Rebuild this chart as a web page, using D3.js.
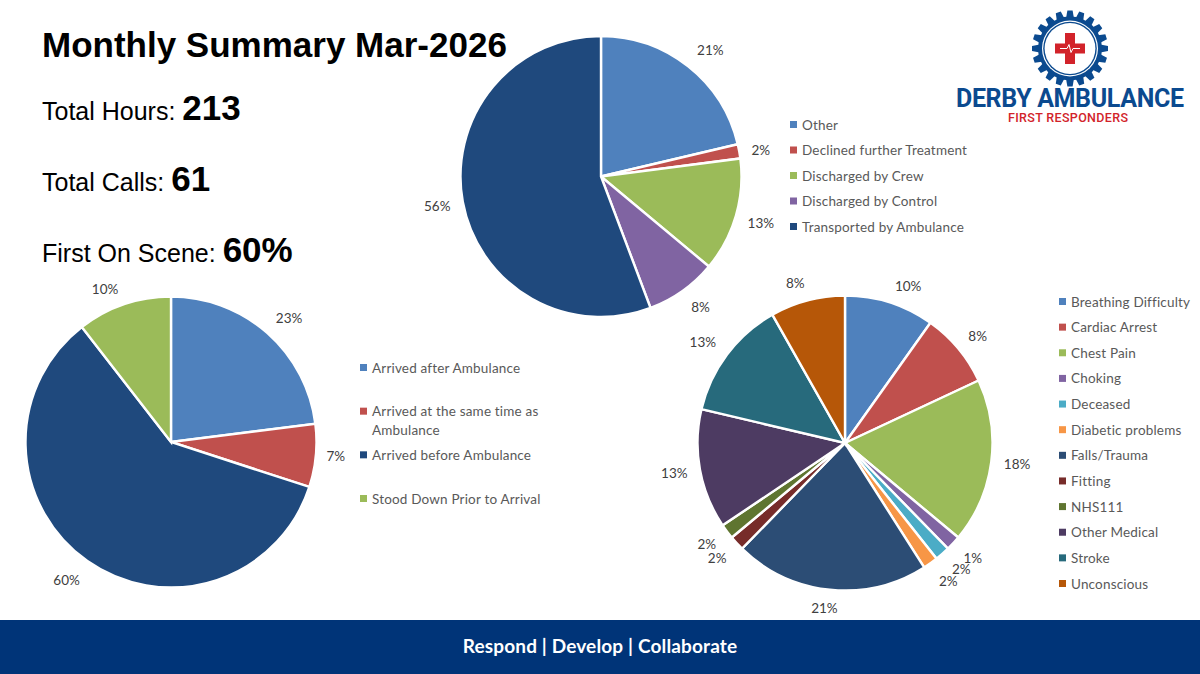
<!DOCTYPE html>
<html>
<head>
<meta charset="utf-8">
<script src="https://d3js.org/d3.v7.min.js"></script>
<style>
  html, body { margin: 0; padding: 0; background: #fff; }
  svg { display: block; }
  text { font-family: Lato, sans-serif; }
  .big { font-family: "Liberation Sans", Arial, sans-serif; fill: #000; }
  .legend text { font-size: 13.5px; fill: #595959; letter-spacing: 0.18px; }
  .pct { font-size: 13.5px; fill: #404040; text-anchor: middle; }
</style>
</head>
<body>
<div id="my_dataviz"></div>
<script>
// outcome of the call (top pie)
var outcomeNames = ["Other", "Declined further Treatment", "Discharged by Crew", "Discharged by Control", "Transported by Ambulance"];
var outcomeValues = [13, 1, 8, 5, 34];
var outcomeLabels = ["21%", "2%", "13%", "8%", "56%"];
var outcomeColors = ["#4f81bd", "#c0504d", "#9bbb59", "#8064a2", "#1f497d"];

// arrival (left pie)
var arrivalNames = ["Arrived after Ambulance", "Arrived at the same time as|Ambulance", "Arrived before Ambulance", "Stood Down Prior to Arrival"];
var arrivalValues = [23, 7, 59.5, 10.5];
var arrivalLabels = ["23%", "7%", "60%", "10%"];
var arrivalColors = ["#4f81bd", "#c0504d", "#1f497d", "#9bbb59"];

// call type (right pie)
var typeNames = ["Breathing Difficulty", "Cardiac Arrest", "Chest Pain", "Choking", "Deceased", "Diabetic problems", "Falls/Trauma", "Fitting", "NHS111", "Other Medical", "Stroke", "Unconscious"];
var typeValues = [6, 5, 11, 1, 1, 1, 13, 1, 1, 8, 8, 5];
var typeLabels = ["10%", "8%", "18%", "1%", "2%", "2%", "21%", "2%", "2%", "13%", "13%", "8%"];
var typeColors = ["#4f81bd", "#c0504d", "#9bbb59", "#8064a2", "#4bacc6", "#f79646", "#2c4d75", "#772c2a", "#5f7530", "#4d3b62", "#276a7c", "#b65708"];

var summaryNames = ["Total Hours: ", "Total Calls: ", "First On Scene: "];
var summaryValues = ["213", "61", "60%"];

var svg = d3.select("#my_dataviz").append("svg")
  .attr("width", 1200)
  .attr("height", 674);

function drawPie(cfg) {
  var g = svg.append("g").attr("transform", "translate(" + cfg.cx + "," + cfg.cy + ")");
  var arcs = d3.pie().sort(null)(cfg.values);
  var arc = d3.arc().innerRadius(0).outerRadius(cfg.r);
  var labelArc = d3.arc().innerRadius(cfg.r + cfg.off).outerRadius(cfg.r + cfg.off);

  g.selectAll("path").data(arcs).enter().append("path")
    .attr("d", arc)
    .attr("fill", function(d, i) { return cfg.colors[i]; })
    .attr("stroke", "#fff")
    .attr("stroke-width", 2.4);

  g.selectAll(".pct").data(arcs).enter().append("text")
    .attr("class", "pct")
    .attr("x", function(d, i) { return labelArc.centroid(d)[0] + ((cfg.nudge[i] || [0, 0])[0]); })
    .attr("y", function(d, i) { return labelArc.centroid(d)[1] + ((cfg.nudge[i] || [0, 0])[1]) + 5; })
    .text(function(d, i) { return cfg.labels[i]; });

  // legend
  var y = d3.scalePoint().domain(cfg.names).range(cfg.legendY);
  var item = svg.append("g").attr("class", "legend").selectAll("g").data(cfg.names).enter().append("g")
    .attr("transform", function(d) { return "translate(" + cfg.legendX + "," + y(d) + ")"; });
  item.append("rect")
    .attr("x", 0).attr("y", -4)
    .attr("width", 7).attr("height", 7)
    .attr("fill", function(d, i) { return cfg.colors[i]; });
  item.each(function(d) {
    var lines = d.split("|");
    var t = d3.select(this);
    lines.forEach(function(l, k) {
      t.append("text").attr("x", 12).attr("y", 4.5 + k * 18.5).text(l);
    });
  });
}

drawPie({ cx: 601, cy: 176.5, r: 140.5, off: 26, values: outcomeValues, labels: outcomeLabels, colors: outcomeColors,
  names: outcomeNames, legendX: 790, legendY: [125, 227],
  nudge: { 0: [6, 4], 1: [-4, 3], 3: [3, -5] } });
drawPie({ cx: 171, cy: 442, r: 145.5, off: 24, values: arrivalValues, labels: arrivalLabels, colors: arrivalColors,
  names: arrivalNames, legendX: 360, legendY: [368, 499],
  nudge: { 0: [6, 3], 1: [-4, -2], 2: [-7, -1], 3: [-11, 7] } });
drawPie({ cx: 845, cy: 443, r: 147.5, off: 24, values: typeValues, labels: typeLabels, colors: typeColors,
  names: typeNames, legendX: 1059, legendY: [302, 584],
  nudge: { 0: [11, 6], 1: [1, 3], 2: [2, -1], 3: [2, -1], 4: [3, -3], 5: [4, -2], 6: [-3, -6], 7: [-2, -1], 8: [-1, -2], 9: [-2, -1], 10: [-5, 2], 11: [-6, 6] } });

// title block
svg.append("text").attr("class", "big")
  .attr("x", 42).attr("y", 57)
  .style("font-size", "35px").style("font-weight", "bold")
  .text("Monthly Summary Mar-2026");

var rowY = d3.scalePoint().domain(summaryNames).range([120, 262]);
summaryNames.forEach(function(n, i) {
  var t = svg.append("text").attr("class", "big").attr("x", 42).attr("y", rowY(n));
  t.append("tspan").style("font-size", "25px").text(n);
  t.append("tspan").style("font-size", "35px").style("font-weight", "bold").text(summaryValues[i]);
});

// footer band
svg.append("rect").attr("x", 0).attr("y", 620).attr("width", 1200).attr("height", 54).attr("fill", "#003478");
svg.append("text").attr("x", 600).attr("y", 653)
  .attr("text-anchor", "middle")
  .style("font-size", "19px").style("font-weight", "bold").style("fill", "#fff").style("letter-spacing", "0.15px")
  .text("Respond | Develop | Collaborate");

// logo
var logo = svg.append("g").attr("transform", "translate(1070,48.5)");
var blue = "#0b4a8f", red = "#d2232a";
logo.selectAll(".tooth").data(d3.range(20)).enter().append("path")
  .attr("d", d3.line()([[-4.2, -29], [-2.6, -38], [2.6, -38], [4.2, -29]]))
  .attr("fill", blue)
  .attr("transform", function(d) { return "rotate(" + d * 18 + ")"; });
logo.append("circle").attr("r", 32).attr("fill", blue);
logo.append("circle").attr("r", 28).attr("fill", "#fff");
logo.append("circle").attr("r", 26.8).attr("fill", blue);
logo.append("circle").attr("r", 25.4).attr("fill", "#fff");
logo.append("rect").attr("x", -15).attr("y", -5).attr("width", 30).attr("height", 10).attr("fill", red);
logo.append("rect").attr("x", -5).attr("y", -15.5).attr("width", 10).attr("height", 31).attr("fill", red);
logo.append("path")
  .attr("d", d3.line()([[-10, 0], [-3, 0], [-1, -4], [1, 4], [3, 0], [10, 0]]))
  .attr("fill", "none").attr("stroke", "#fff").attr("stroke-width", 1);
svg.append("text").attr("x", 956).attr("y", 107)
  .attr("textLength", 228).attr("lengthAdjust", "spacing")
  .style("font-family", "Roboto, sans-serif").style("font-size", "25px").style("font-weight", "bold").style("fill", blue)
  .text("DERBY AMBULANCE");
svg.append("text").attr("x", 1008).attr("y", 122)
  .attr("textLength", 120)
  .style("font-family", "Roboto, sans-serif").style("font-size", "12.5px").style("font-weight", "500").style("fill", red)
  .text("FIRST RESPONDERS");
</script>
</body>
</html>
